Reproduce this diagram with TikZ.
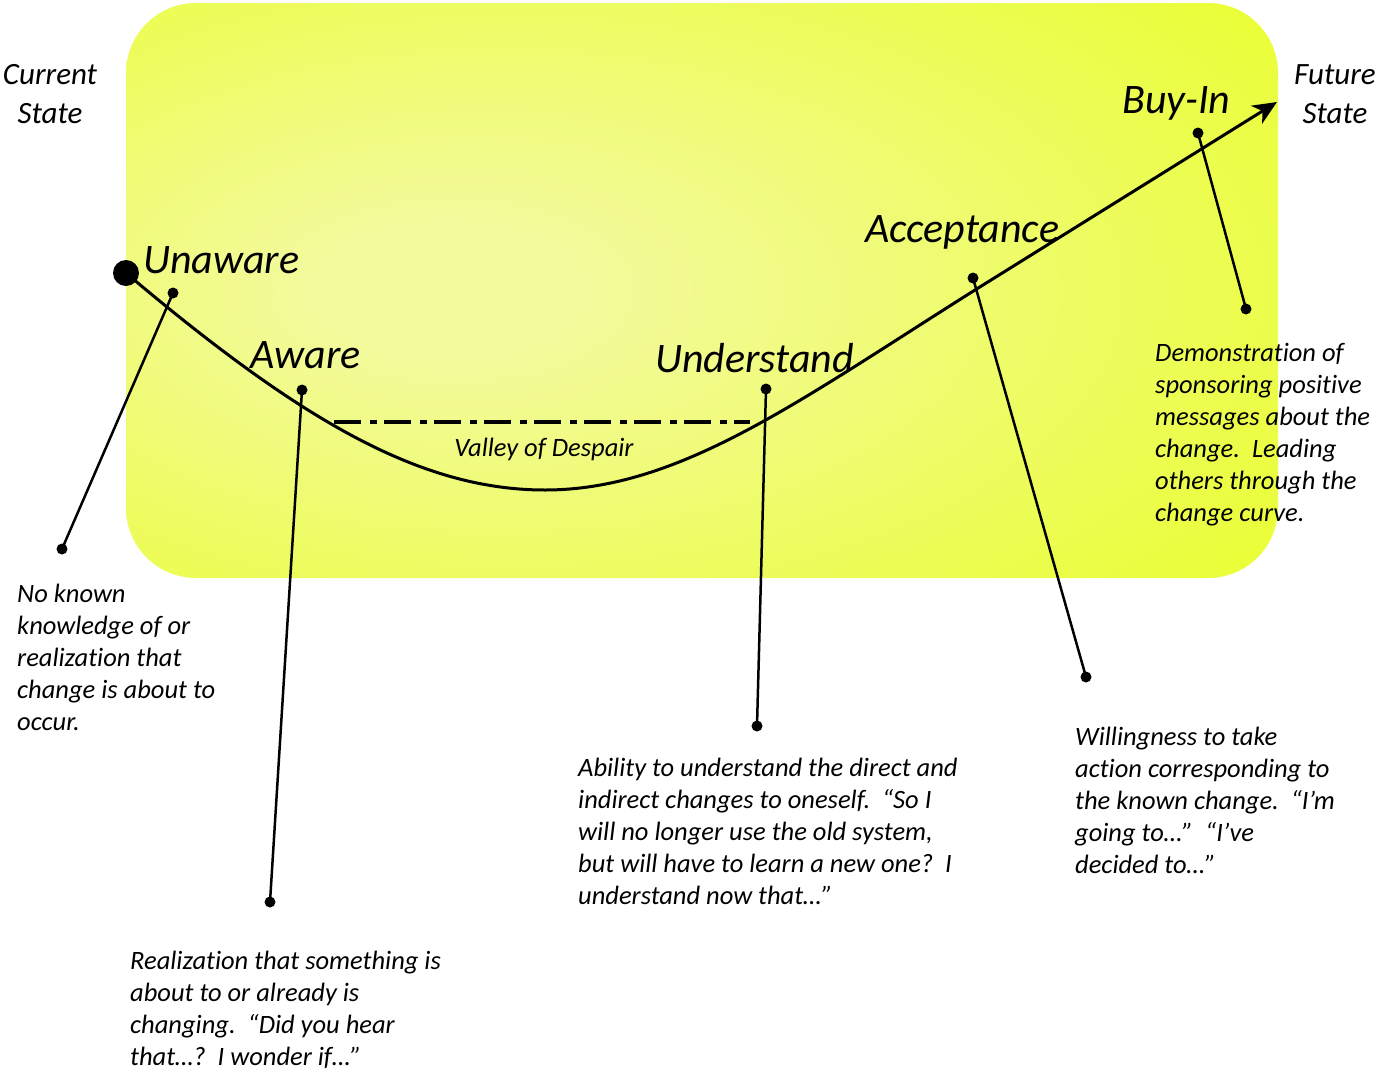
\documentclass[tikz,border=0pt]{standalone}
\usepackage{fontspec}
\setmainfont{Carlito}[Ligatures=NoCommon]
\usetikzlibrary{arrows.meta,positioning}
\definecolor{glowin}{HTML}{F3FA9C}
\definecolor{glowout}{HTML}{E6FF14}
\pgfdeclareradialshading{glow}{\pgfpoint{-12bp}{0bp}}{color(0bp)=(glowin); color(6bp)=(glowin); color(50bp)=(glowout); color(80bp)=(glowout)}

\begin{document}
\frenchspacing
\begin{tikzpicture}[
    x=1pt, y=-1pt,
    stage/.style={font=\fontsize{42}{50}\selectfont\itshape, inner sep=0pt, anchor=base west},
    side/.style={font=\fontsize{31}{39}\selectfont\itshape, align=center, inner sep=0pt},
    note/.style={font=\fontsize{26.5}{32}\selectfont\itshape, align=left, inner sep=0pt, anchor=north west},
    tipdot/.style={circle, fill=black, inner sep=0pt, minimum size=11pt},
    bigdot/.style={circle, fill=black, inner sep=0pt, minimum size=26pt},
    pointer/.style={line width=2.5pt},
    curve/.style={line width=3pt, -{Stealth[length=24pt, width=21pt, inset=7pt]}},
    despair/.style={line width=4pt, dash pattern=on 27pt off 9pt on 7pt off 7pt}
  ]
    \useasboundingbox (0,0) rectangle (1377,1071);
    \shade[shading=glow, rounded corners=70pt] (126,3) rectangle (1278,578);

    % the change curve
    \node[bigdot] (start) at (126,273) {};
    \coordinate (bottom) at (545,490);
    \coordinate (future) at (1277,102);
    \draw[curve] (start.center) .. controls (300,420) and (420,490) .. (bottom)
        .. controls (680,490) and (800,400) .. (975,290) -- (future);

    \coordinate (valleyL) at (334,422);
    \coordinate (valleyR) at (750,422);
    \draw[despair] (valleyL) -- (valleyR);
    \node[font=\fontsize{26.5}{30}\selectfont\itshape, inner sep=0pt, anchor=base] (valley) at (544,456) {Valley of Despair};

    \node[side] (current) at (50,94) {Current\\State};
    \node[side] (futurestate) at (1335,94) {Future\\State};

    \node[stage] (unaware) at (143,273) {Unaware};
    \node[stage] (aware) at (250,368) {Aware};
    \node[stage] (understand) at (655,372) {Understand};
    \node[stage] (acceptance) at (865,242) {Acceptance};
    \node[stage] (buyin) at (1122,113) {Buy-In};

    % pointers to the notes
    \node[tipdot] (unaware-a) at (173,293) {};
    \node[tipdot] (unaware-b) at (62,549) {};
    \node[tipdot] (aware-a) at (302,390) {};
    \node[tipdot] (aware-b) at (270,902) {};
    \node[tipdot] (understand-a) at (766,389) {};
    \node[tipdot] (understand-b) at (757,726) {};
    \node[tipdot] (acceptance-a) at (973,278) {};
    \node[tipdot] (acceptance-b) at (1086,677) {};
    \node[tipdot] (buyin-a) at (1198,133) {};
    \node[tipdot] (buyin-b) at (1246,309) {};
    \draw[pointer] (unaware-a.center) -- (unaware-b.center);
    \draw[pointer] (aware-a.center) -- (aware-b.center);
    \draw[pointer] (understand-a.center) -- (understand-b.center);
    \draw[pointer] (acceptance-a.center) -- (acceptance-b.center);
    \draw[pointer] (buyin-a.center) -- (buyin-b.center);

    \node[note] (unaware-note) at (17,584) {No known\\knowledge of or\\realization that\\change is about to\\occur.};
    \node[note] (aware-note) at (130,951) {Realization that something is\\about to or already is\\changing.~ “Did you hear\\that…?~ I wonder if…”};
    \node[note] (understand-note) at (578,758) {Ability to understand the direct and\\indirect changes to oneself.~ “So I\\will no longer use the old system,\\but will have to learn a new one?~ I\\understand now that…”};
    \node[note] (acceptance-note) at (1075,727) {Willingness to take\\action corresponding to\\the known change.~ “I’m\\going to…”~ “I’ve\\decided to…”};
    \node[note] (buyin-note) at (1155,343) {Demonstration of\\sponsoring positive\\messages about the\\change.~ Leading\\others through the\\change curve.};
  \end{tikzpicture}
\end{document}
